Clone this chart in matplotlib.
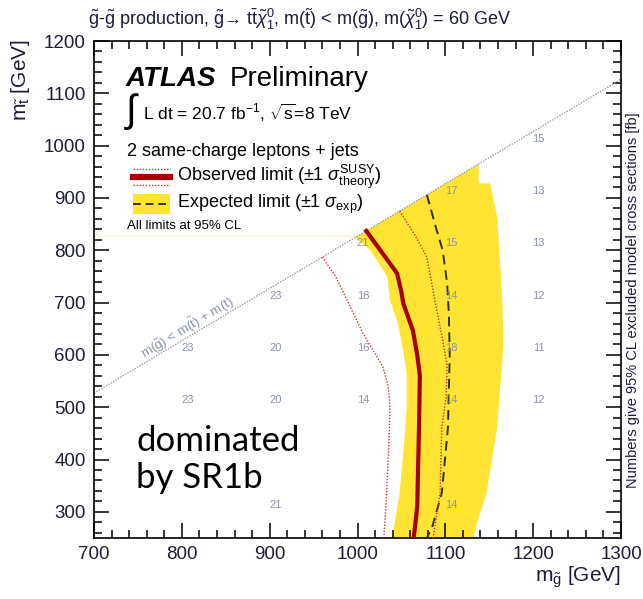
import matplotlib
matplotlib.use('Agg')
from matplotlib import pyplot as plt
from matplotlib.patches import Polygon, Rectangle
from matplotlib.lines import Line2D
from matplotlib.ticker import MultipleLocator

plt.rcParams['font.family'] = ['Liberation Sans', 'DejaVu Sans']
plt.rcParams['mathtext.fontset'] = 'custom'
plt.rcParams['mathtext.rm'] = 'Liberation Sans'
plt.rcParams['mathtext.it'] = 'Liberation Sans:italic'
plt.rcParams['mathtext.bf'] = 'Liberation Sans:bold'

TOP_MASS = 173.0

# observed limit and its +-1 sigma theory variations (m_gluino, m_stop)
obs_mg = [1010, 1026, 1045, 1050, 1052, 1063, 1068, 1071, 1070, 1068, 1064]
obs_mt = [837, 800, 756, 720, 699, 647, 600, 560, 460, 310, 250]
obs_dn_mg = [960, 975, 988, 1006, 1029, 1035, 1037, 1036, 1033, 1030]
obs_dn_mt = [787, 750, 705, 642, 577, 540, 500, 440, 330, 250]
obs_up_mg = [1048, 1065, 1079, 1088, 1097, 1102, 1101, 1096, 1094, 1086]
obs_up_mt = [875, 830, 787, 705, 628, 580, 520, 462, 336, 250]

# expected limit
exp_mg = [1079, 1090, 1097, 1102, 1104, 1105, 1103, 1096, 1085, 1079]
exp_mt = [906, 839, 800, 737, 680, 600, 462, 336, 271, 250]

# expected +-1 sigma band edges
band_lo_mg = [997, 1015, 1034, 1037, 1046, 1052, 1056, 1056, 1054, 1048, 1041, 1040]
band_lo_mt = [824, 800, 749, 705, 660, 609, 565, 500, 450, 336, 265, 250]
band_hi_mg = [1138, 1138, 1151, 1159, 1163, 1165, 1166, 1165, 1159, 1147, 1136, 1132]
band_hi_mt = [965, 928, 928, 864, 760, 700, 620, 590, 462, 336, 279, 250]

# excluded cross sections [fb] at grid points
xs_mg = [1200, 1100, 1200, 1000, 1100, 1200, 900, 1000, 1100, 1200,
         800, 900, 1000, 1100, 1200, 800, 900, 1000, 1100, 1200, 900, 1100]
xs_mt = [1000, 900, 900, 800, 800, 800, 700, 700, 700, 700,
         600, 600, 600, 600, 600, 500, 500, 500, 500, 500, 300, 300]
xs_val = [15, 17, 13, 21, 15, 13, 23, 18, 14, 12,
          23, 20, 16, 18, 11, 23, 20, 14, 14, 12, 21, 14]

W, H = 643, 599
fig = plt.figure(figsize=(W / 100, H / 100), dpi=100)
L, R, T, B = 94, 621, 41, 538
ax = fig.add_axes([L / W, 1 - B / H, (R - L) / W, (B - T) / H])

def axf(x, y):
    # pixel position -> axes fraction
    return (x - L) / (R - L), (B - y) / (B - T)

ax.set_xlim(700, 1300)
ax.set_ylim(250, 1200)

yellow = '#ffe433'
darkred = '#a80000'
dotred = '#d03030'

# expected band
band = list(zip(band_lo_mg, band_lo_mt)) + list(zip(band_hi_mg[::-1], band_hi_mt[::-1]))
ax.add_patch(Polygon(band, closed=True, facecolor=yellow, edgecolor='none', zorder=1))
ax.plot([700, band_lo_mg[0]], [828, 828], color='#fff8d6', lw=1, zorder=1)

ax.plot(exp_mg, exp_mt, color='#333333', lw=1.4, ls=(0, (5, 3)), zorder=3)
ax.plot(obs_dn_mg, obs_dn_mt, color=dotred, lw=1.0, ls=(0, (1, 1.2)), zorder=3)
ax.plot(obs_up_mg, obs_up_mt, color=dotred, lw=1.0, ls=(0, (1, 1.2)), zorder=3)
ax.plot(obs_mg, obs_mt, color=darkred, lw=3, zorder=4)

# kinematic limit
ax.plot([700, 1300], [700 - TOP_MASS, 1300 - TOP_MASS], color='#9a9a9a', lw=1.0,
        ls=(0, (1, 1)), zorder=2)
ax.text(806, 652, r'm($\tilde{\mathrm{g}}$) < m($\tilde{\mathrm{t}}$) + m(t)', rotation=31,
        color='#8a94a8', fontsize=9.5, ha='center', va='center', rotation_mode='anchor')

for mg, mt, v in zip(xs_mg, xs_mt, xs_val):
    ax.annotate(str(v), (mg, mt), xytext=(4, 5), textcoords='offset points',
                ha='center', va='center', fontsize=8, color='#8a94a8', zorder=5)

# axes styling
ax.xaxis.set_major_locator(MultipleLocator(100))
ax.xaxis.set_minor_locator(MultipleLocator(20))
ax.yaxis.set_major_locator(MultipleLocator(100))
ax.yaxis.set_minor_locator(MultipleLocator(20))
ax.tick_params(which='both', direction='in', top=True, right=True, width=1.1,
               labelsize=13.5, labelcolor='#1c1c3c', pad=6)
ax.tick_params(which='major', length=11)
ax.tick_params(which='minor', length=6)
for s in ax.spines.values():
    s.set_linewidth(1.2)

fig.text(0.032, 0.935, r'm$_{\tilde{\mathrm{t}}}$ [GeV]', rotation=90, ha='center', va='top',
         fontsize=15, color='#1c1c3c')
fig.text(R / W, 1 - 577 / H, r'm$_{\tilde{\mathrm{g}}}$ [GeV]', ha='right', va='center',
         fontsize=15, color='#1c1c3c')
fig.text(0.984, 1 - 300 / H, 'Numbers give 95% CL excluded model cross sections [fb]',
         rotation=90, ha='center', va='center', fontsize=10.5, color='#1c1c3c')
fig.text(88 / W, 1 - 19 / H,
         r'$\tilde{\mathrm{g}}$-$\tilde{\mathrm{g}}$ production, $\tilde{\mathrm{g}}$→ '
         r'$\mathrm{t}\bar{\mathrm{t}}\tilde{\chi}^{0}_{1}$, m($\tilde{\mathrm{t}}$) < m($\tilde{\mathrm{g}}$), '
         r'm($\tilde{\chi}^{0}_{1}$) = 60 GeV',
         ha='left', va='center', fontsize=13, color='#1c1c3c')

# label block
ax.text(*axf(126, 79), 'ATLAS', transform=ax.transAxes, fontsize=20, fontweight='bold',
        fontstyle='italic', ha='left', va='center')
ax.text(*axf(230, 79), 'Preliminary', transform=ax.transAxes, fontsize=20,
        ha='left', va='center')
ax.text(*axf(124, 111), r'$\int$', transform=ax.transAxes, fontsize=28, ha='left', va='center')
ax.text(*axf(143, 113), r'L dt = 20.7 fb$^{-1}$, $\sqrt{\mathrm{s}}$=8 TeV', transform=ax.transAxes,
        fontsize=12.5, ha='left', va='center')
ax.text(*axf(127, 151), '2 same-charge leptons + jets', transform=ax.transAxes,
        fontsize=13, ha='left', va='center')
ax.text(*axf(177, 177), r'Observed limit ($\pm$1 $\sigma^{\mathrm{SUSY}}_{\mathrm{theory}}$)',
        transform=ax.transAxes, fontsize=13, ha='left', va='center')
ax.text(*axf(177, 204), r'Expected limit ($\pm$1 $\sigma_{\mathrm{exp}}$)',
        transform=ax.transAxes, fontsize=13, ha='left', va='center')
ax.text(*axf(127, 226), 'All limits at 95% CL', transform=ax.transAxes,
        fontsize=9.5, ha='left', va='center')

x0, _ = axf(133, 0)
x1, _ = axf(170, 0)
ax.add_line(Line2D([x0, x1], [axf(0, 177)[1]] * 2, transform=ax.transAxes, color=darkred,
                   lw=4.5, clip_on=False))
for yy in (169, 185):
    ax.add_line(Line2D([x0, x1], [axf(0, yy)[1]] * 2, transform=ax.transAxes, color=dotred,
                       lw=1, ls=(0, (1, 1.2)), clip_on=False))
yb0 = axf(0, 214)[1]
yb1 = axf(0, 194)[1]
ax.add_patch(Rectangle((x0, yb0), x1 - x0, yb1 - yb0, transform=ax.transAxes,
                       facecolor=yellow, edgecolor='none'))
ax.add_line(Line2D([x0, x1], [axf(0, 204)[1]] * 2, transform=ax.transAxes, color='#333333',
                   lw=1.4, ls=(0, (4, 2.5))))

# two lines, baseline of the last one at y=488 px
fig.text(136 / W, 1 - 488 / H, 'dominated\nby SR1b', fontfamily='Lato', fontsize=25,
         ha='left', va='baseline', linespacing=1.2)

fig.savefig('out.png', dpi=100)
